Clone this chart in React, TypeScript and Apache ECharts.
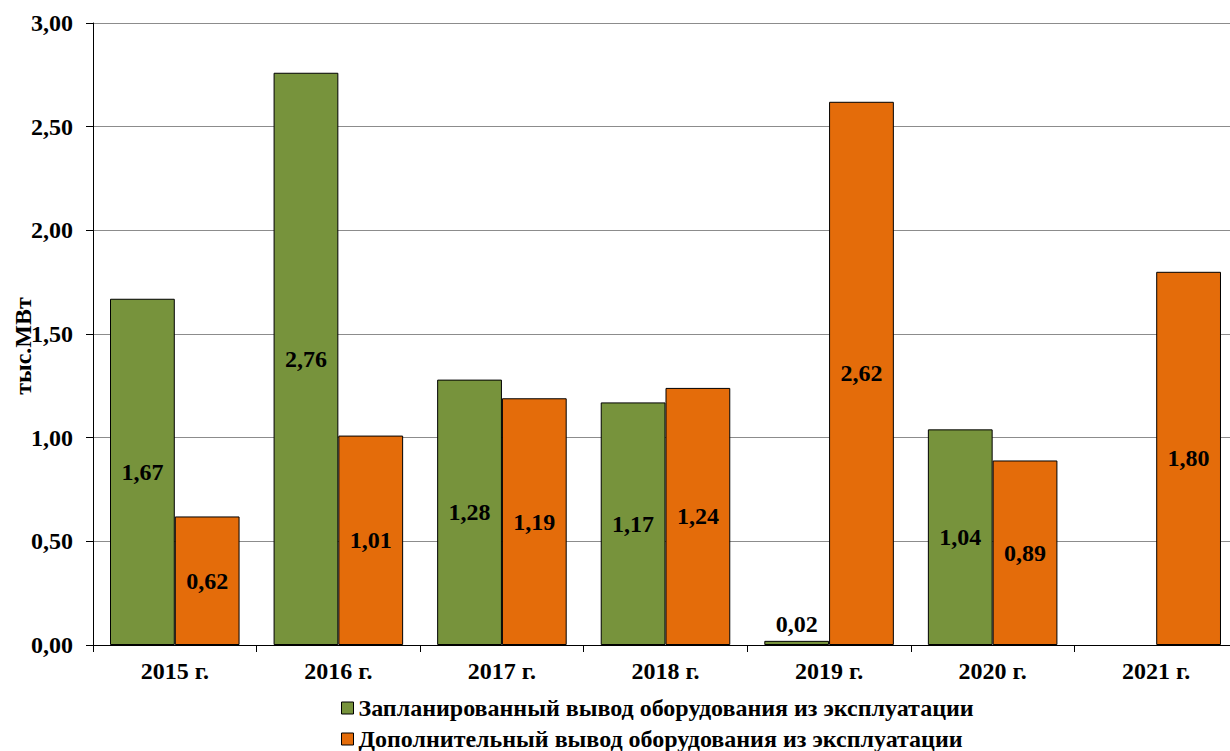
import React, { useEffect, useRef } from "react";
import * as echarts from "echarts";

const categories = ["2015 г.", "2016 г.", "2017 г.", "2018 г.", "2019 г.", "2020 г.", "2021 г."];
const planned: (number | null)[] = [1.67, 2.76, 1.28, 1.17, 0.02, 1.04, null];
const additional: number[] = [0.62, 1.01, 1.19, 1.24, 2.62, 0.89, 1.8];
const seriesNames = [
  "Запланированный вывод оборудования из эксплуатации",
  "Дополнительный вывод оборудования из эксплуатации",
];
const yAxisTitle = "тыс.МВт";
const yTicks = { min: 0, max: 3, interval: 0.5 };

const FONT = "'Liberation Serif', 'Times New Roman', serif";
const fmt = (v: number) => v.toFixed(2).replace(".", ",");

export default function App() {
  const ref = useRef<HTMLDivElement>(null);
  useEffect(() => {
    if (!ref.current) return;
    const chart = echarts.init(ref.current, undefined, { renderer: "svg" });
    const labelBase = {
      show: true,
      position: "inside" as const,
      color: "#000",
      fontFamily: FONT,
      fontWeight: "bold" as const,
      fontSize: 24,
      formatter: (p: any) => (p.value == null ? "" : fmt(p.value)),
    };
    const legendCommon = {
      orient: "horizontal",
      left: 336,
      itemWidth: 12,
      itemHeight: 12,
      icon: "rect",
      textStyle: { fontFamily: FONT, fontWeight: "bold", fontSize: 24, color: "#000" },
      itemStyle: { borderColor: "#000", borderWidth: 1 },
    };
    chart.setOption({
      animation: false,
      backgroundColor: "#fff",
      grid: {
        left: 93,
        right: -8,
        top: 23,
        bottom: 106,
        containLabel: false,
        outerBoundsMode: "none",
      },
      graphic: [
        {
          type: "text",
          x: 23,
          y: 346,
          rotation: Math.PI / 2,
          style: {
            text: yAxisTitle,
            fill: "#000",
            font: `bold 24px ${FONT}`,
            align: "center",
            verticalAlign: "middle",
          },
        },
      ],
      legend: [
        { ...legendCommon, top: 691, data: [seriesNames[0]] },
        { ...legendCommon, top: 722, data: [seriesNames[1]] },
      ],
      xAxis: {
        type: "category",
        data: categories,
        axisLine: { lineStyle: { color: "#000", width: 1 } },
        axisTick: { show: true, length: 7, lineStyle: { color: "#000" } },
        axisLabel: {
          color: "#000",
          fontFamily: FONT,
          fontWeight: "bold",
          fontSize: 24,
          margin: 14,
        },
      },
      yAxis: {
        type: "value",
        min: yTicks.min,
        max: yTicks.max,
        interval: yTicks.interval,
        axisLine: { show: true, lineStyle: { color: "#000", width: 1 } },
        axisTick: { show: true, length: 7, lineStyle: { color: "#000" } },
        axisLabel: {
          color: "#000",
          fontFamily: FONT,
          fontWeight: "bold",
          fontSize: 24,
          margin: 20,
          formatter: (v: number) => fmt(v),
        },
        splitLine: { lineStyle: { color: "#8c8c8c", width: 1 } },
      },
      series: [
        {
          name: seriesNames[0],
          type: "bar",
          data: planned.map((v) =>
            v !== null && v < 0.1 ? { value: v, label: { position: "top", distance: 5 } } : v
          ),
          barGap: "0%",
          barCategoryGap: "20.8%",
          itemStyle: { color: "#77933C", borderColor: "#000", borderWidth: 1 },
          label: labelBase,
        },
        {
          name: seriesNames[1],
          type: "bar",
          data: additional,
          barGap: "0%",
          barCategoryGap: "20.8%",
          itemStyle: { color: "#E46C0A", borderColor: "#000", borderWidth: 1 },
          label: labelBase,
        },
      ],
    });
    return () => chart.dispose();
  }, []);
  return (
    <div
      ref={ref}
      style={{ position: "absolute", left: 0, top: 0, width: 1230, height: 751 }}
    />
  );
}
